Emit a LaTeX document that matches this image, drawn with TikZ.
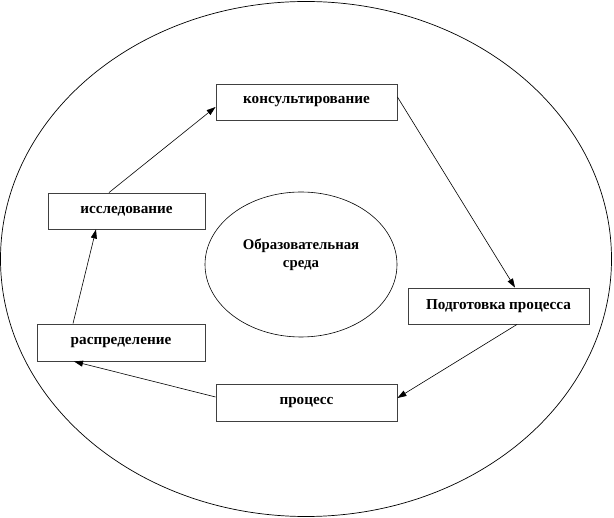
\documentclass[tikz,border=0pt]{standalone}
\usepackage{fontspec}
\setmainfont{Liberation Serif}
\usetikzlibrary{arrows.meta,shapes.geometric}
\begin{document}
\begin{tikzpicture}[x=1pt,y=-1pt,
  box/.style={draw=black!75,line width=0.9pt,fill=white,inner sep=0pt,
    font=\bfseries\fontsize{15.2}{17}\selectfont,minimum height=36pt},
  conn/.style={draw=black,line width=0.6pt,-{Triangle[length=9pt,width=6pt]}}]
\useasboundingbox (0,0) rectangle (614,518);
\draw[line width=0.7pt] (306,259) ellipse [x radius=305.5, y radius=257.5];
\node[draw,line width=0.6pt,ellipse,minimum width=192pt,minimum height=145pt,inner sep=0pt,
  font=\bfseries\fontsize{14.8}{18}\selectfont,align=center,text depth=0pt] (env) at (301,264.5) {Образовательная\\среда\\[4pt]};

\node[box,minimum width=181pt] (kons) at (306.5,102) {консультирование};
\node[box,minimum width=157pt] (issl) at (126.5,211) {исследование};
\node[box,minimum width=168pt,minimum height=37pt] (rasp) at (121,342.5) {распределение};
\node[box,minimum width=181pt,minimum height=37pt] (proc) at (306.5,402.5) {процесс};
\node[box,minimum width=181pt] (podg) at (498.5,306) {Подготовка процесса};

\draw[conn] ([xshift=-17.5pt]issl.north) -- ([yshift=-5pt]kons.west);
\draw[conn] ([yshift=5pt]kons.east) -- ([xshift=16.5pt]podg.north);
\draw[conn] ([xshift=18.5pt]podg.south) -- ([yshift=4.5pt]proc.east);
\draw[conn] ([yshift=5.5pt]proc.west) -- ([xshift=-47pt]rasp.south);
\draw[conn] ([xshift=-48pt]rasp.north) -- ([xshift=-30.5pt]issl.south);
\end{tikzpicture}
\end{document}
